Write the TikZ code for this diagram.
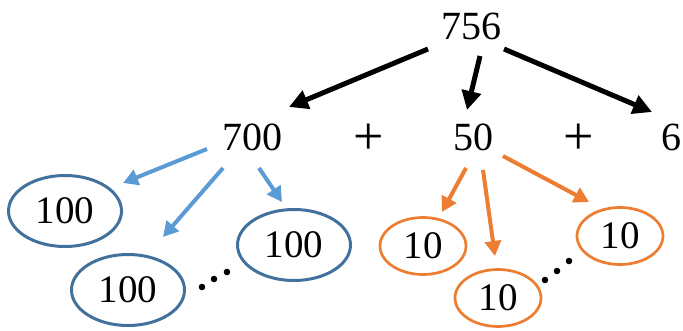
\documentclass[tikz,border=0pt]{standalone}
\usepackage{fontspec}
\setmainfont{Liberation Serif}
\usetikzlibrary{arrows.meta,shapes.geometric}
\definecolor{arrblue}{HTML}{5B9BD5}
\definecolor{ellblue}{HTML}{41719C}
\definecolor{orng}{HTML}{ED7D31}
\begin{document}
\begin{tikzpicture}[x=1pt,y=-1pt,
  num/.style={font=\fontsize{40}{40}\selectfont, inner sep=0pt},
  plus/.style={font=\fontsize{54}{54}\selectfont, inner sep=0pt},
  blk/.style={line width=5pt, -{Triangle[length=19pt,width=19pt]}},
  barr/.style={arrblue, line width=4pt, -{Triangle[length=15pt,width=16pt]}},
  oarr/.style={orng, line width=4pt, -{Triangle[length=15pt,width=16pt]}},
  bell/.style={ellipse, draw=ellblue, line width=3pt, minimum width=113pt, minimum height=71pt, inner sep=0pt, font=\fontsize{39}{40}\selectfont},
  oell/.style={ellipse, draw=orng, line width=2.7pt, minimum width=86pt, minimum height=57pt, inner sep=0pt, font=\fontsize{39}{40}\selectfont},
  dotfill/.style={fill=black}]
\useasboundingbox (0,0) rectangle (683,331);
\node[num] (n756) at (471,26) {756};
\node[num] (n700) at (252,137) {700};
\node[plus] (p1) at (369,139) {+};
\node[num] (n50) at (473,137) {50};
\node[plus] (p2) at (579,139) {+};
\node[num] (n6) at (671,137) {6};
\draw[blk] ([shift={(-43,23)}]n756.center) -- ([shift={(37,-30)}]n700.center);
\draw[blk] ([shift={(9,30)}]n756.center) -- ([shift={(-6,-27)}]n50.center);
\draw[blk] ([shift={(33,23)}]n756.center) -- ([shift={(-19,-25)}]n6.center);
% blue
\node[bell] (e1) at (65,211) {100};
\node[bell] (e2) at (128,290) {100};
\node[bell] (e3) at (294,245) {100};
\draw[barr] ([shift={(-45,12)}]n700.center) -- ([shift={(58,-28)}]e1.center);
\draw[barr] ([shift={(-29,31)}]n700.center) -- ([shift={(35,-53)}]e2.center);
\draw[barr] ([shift={(7,31)}]n700.center) -- ([shift={(-12,-43)}]e3.center);
\fill[dotfill] (202,287) circle (3.3) (214,279) circle (3.3) (227,272) circle (3.3);
% orange
\node[oell] (o1) at (423,246) {10};
\node[oell] (o2) at (498,298) {10};
\node[oell] (o3) at (620,236) {10};
\draw[oarr] ([shift={(-7,31)}]n50.center) -- ([shift={(19,-34)}]o1.center);
\draw[oarr] ([shift={(10,33)}]n50.center) -- ([shift={(-3,-42)}]o2.center);
\draw[oarr] ([shift={(30,19)}]n50.center) -- ([shift={(-31,-34)}]o3.center);
\fill[dotfill] (545,280) circle (3.3) (557,271) circle (3.3) (569,261) circle (3.3);
\end{tikzpicture}
\end{document}
